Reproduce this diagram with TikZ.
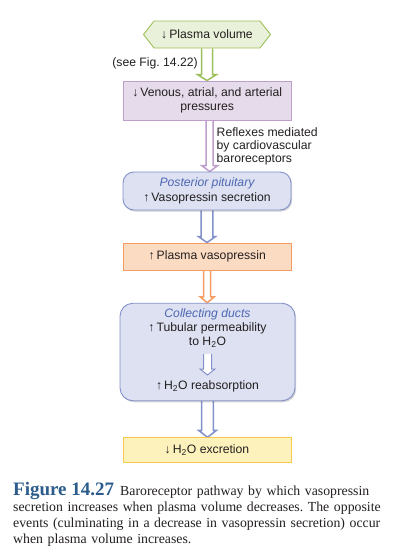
\documentclass[tikz,border=0pt]{standalone}
\usepackage{fontspec}
\setmainfont{Liberation Sans}
\newfontfamily\capfont{Liberation Serif}
\usetikzlibrary{calc, shapes.symbols, shadows, backgrounds}

\newcommand{\diagfont}{\fontsize{12.2}{14.6}\selectfont}
\newcommand{\organname}{\itshape\color{glandtext}}
% hollow block arrow: style, start, tip, shaft half width, head half width, head length
\newcommand{\fatarrow}[6]{%
  \draw[#1] let \p1=(#2), \p2=(#3) in
    (\x1-#4,\y1) -- (\x1-#4,\y2+#6) -- (\x1-#5,\y2+#6) -- (\x1,\y2)
    -- (\x1+#5,\y2+#6) -- (\x1+#4,\y2+#6) -- (\x1+#4,\y1);}

\begin{document}
\frenchspacing
\begin{tikzpicture}[x=1pt, y=-1pt]
\definecolor{inkk}{RGB}{35,31,32}
\definecolor{volline}{RGB}{156,192,90}
\definecolor{volfill}{RGB}{234,241,218}
\definecolor{presline}{RGB}{190,158,202}
\definecolor{presfill}{RGB}{230,219,235}
\definecolor{glandline}{RGB}{130,145,202}
\definecolor{glandfill}{RGB}{221,225,242}
\definecolor{glandtext}{RGB}{77,104,178}
\definecolor{hormline}{RGB}{244,156,98}
\definecolor{hormfill}{RGB}{251,220,194}
\definecolor{outline}{RGB}{246,202,80}
\definecolor{outfill}{RGB}{253,242,188}
\definecolor{figblue}{RGB}{43,92,140}

\tikzset{
  flatbox/.style={rectangle, line width=0.9pt, inner sep=0pt, align=center,
    font=\diagfont, text=inkk},
  organbox/.style={flatbox, rounded corners=11pt,
    drop shadow={shadow xshift=1.2pt, shadow yshift=-1.5pt, opacity=0.25, fill=black!70}},
  blockarrow/.style={line width=1.5pt, line join=miter, fill=white}
}

\useasboundingbox (0,0) rectangle (403,552);

% ---- STEPS ----
\node[flatbox, signal, signal to=west and east, signal pointer angle=104,
  draw=volline, fill=volfill, minimum width=127, minimum height=27]
  (plasma) at (207,34.5) {↓\,Plasma volume};
\node[flatbox, draw=presline, fill=presfill, minimum width=168.5, minimum height=39]
  (venous) at (207.2,100.5) {↓\,Venous, atrial, and arterial\\pressures};
\node[organbox, draw=glandline, fill=glandfill, minimum width=168, minimum height=38]
  (pituitary) at (207,191) {{\organname Posterior pituitary}\\↑\,Vasopressin secretion};
\node[flatbox, draw=hormline, fill=hormfill, minimum width=168.5, minimum height=27]
  (vaso) at (207.2,256.5) {↑\,Plasma vasopressin};
\node[organbox, draw=glandline, fill=glandfill, minimum width=175, minimum height=97.5,
  rounded corners=13pt] (ducts) at (207.5,352) {};
\node[flatbox, font=\fontsize{12.2}{13.7}\selectfont] (perm) at (207.5,328)
  {{\organname Collecting ducts}\\↑\,Tubular permeability\\to H\textsubscript{2}O};
\node[flatbox] (reab) at (207.5,386.7) {↑\,H\textsubscript{2}O reabsorption};
\node[flatbox, draw=outline, fill=outfill, minimum width=168, minimum height=24.5]
  (excr) at (207,450) {↓\,H\textsubscript{2}O excretion};

% ---- SIDE LABELS ----
\node[text=inkk, font=\diagfont, inner sep=0pt, anchor=east] (seefig) at (198,63) {(see Fig. 14.22)};
\node[text=inkk, font=\fontsize{12.2}{13.3}\selectfont, inner sep=0pt, align=left, anchor=west]
  (reflex) at (216.5,146.5) {Reflexes mediated\\by cardiovascular\\baroreceptors};

% ---- CONNECTORS ----
\begin{scope}[on background layer]
\fatarrow{blockarrow, draw=volline}{plasma.south}{venous.north}{5.5}{9.5}{6}
\fatarrow{blockarrow, draw=presline}{[xshift=2.5pt]venous.south}{[xshift=2.5pt]pituitary.north}{3.5}{8}{6}
\fatarrow{blockarrow, draw=glandline}{pituitary.south}{vaso.north}{5.8}{8.5}{6}
\fatarrow{blockarrow, draw=hormline}{vaso.south}{ducts.north}{3.5}{7}{6}
\fatarrow{blockarrow, draw=glandline}{ducts.south}{excr.north}{5.8}{9}{7}
\end{scope}
\coordinate (permout) at (207.5,354);
\coordinate (reabin) at (207.5,375);
\fatarrow{line width=1pt, line join=miter, draw=glandline, fill=white}{permout}{reabin}{4}{7.5}{6}

% ---- CAPTION ----
\node[anchor=north west, inner sep=0pt, text width=390pt, align=left, text=inkk,
  font=\capfont\fontsize{13.8}{16.2}\selectfont] (caption) at (13,482)
  {{\fontsize{19}{16.2}\selectfont\bfseries\color{figblue}Figure 14.27}\hspace{0.45em}Baroreceptor pathway by which vasopressin\\
  secretion increases when plasma volume decreases. The opposite\\
  events (culminating in a decrease in vasopressin secretion) occur\\
  when plasma volume increases.};
\end{tikzpicture}
\end{document}
